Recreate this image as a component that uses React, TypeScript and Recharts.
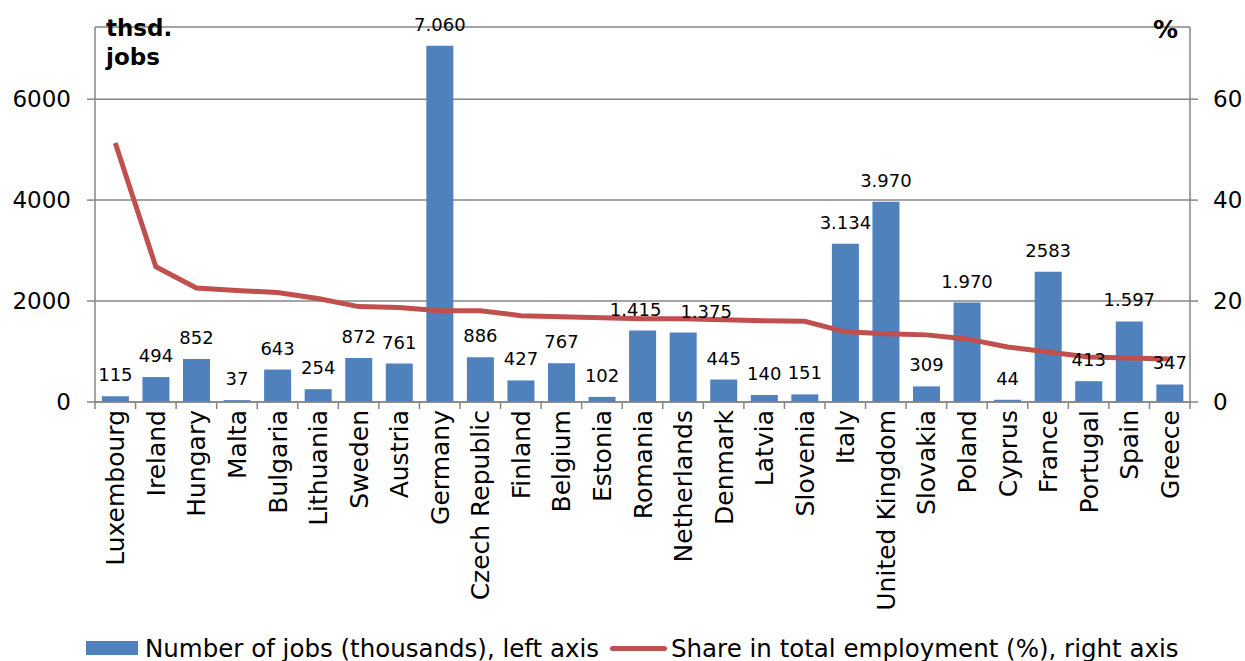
import React from 'react';
import { ComposedChart, Bar, Line, XAxis, YAxis, CartesianGrid, LabelList } from 'recharts';

const countries = [
  'Luxembourg', 'Ireland', 'Hungary', 'Malta', 'Bulgaria', 'Lithuania', 'Sweden', 'Austria', 'Germany',
  'Czech Republic', 'Finland', 'Belgium', 'Estonia', 'Romania', 'Netherlands', 'Denmark', 'Latvia', 'Slovenia',
  'Italy', 'United Kingdom', 'Slovakia', 'Poland', 'Cyprus', 'France', 'Portugal', 'Spain', 'Greece',
];
const jobs = [115, 494, 852, 37, 643, 254, 872, 761, 7060, 886, 427, 767, 102, 1415, 1375, 445, 140, 151, 3134, 3970, 309, 1970, 44, 2583, 413, 1597, 347];
const jobLabels = ['115', '494', '852', '37', '643', '254', '872', '761', '7.060', '886', '427', '767', '102', '1.415', '1.375', '445', '140', '151', '3.134', '3.970', '309', '1.970', '44', '2583', '413', '1.597', '347'];
const share = [51.3, 26.8, 22.6, 22.1, 21.7, 20.5, 18.9, 18.7, 18.1, 18.1, 17.1, 16.9, 16.7, 16.5, 16.5, 16.3, 16.1, 16.0, 13.9, 13.5, 13.3, 12.5, 10.9, 9.9, 8.9, 8.7, 8.5];
const leftTicks = [0, 2000, 4000, 6000];
const rightTicks = [0, 20, 40, 60];

const data = countries.map((c, i) => ({ country: c, jobs: jobs[i], label: jobLabels[i], share: share[i] }));

// label nudges (style only) to avoid overlapping data labels, as in the original
const labelDx: Record<string, number> = { Romania: -7, Netherlands: 23 };

const FONT = "'DejaVu Sans', Verdana, sans-serif";
const AXIS = '#868686';

const CategoryTick = (props: any) => {
  const { x, y, payload, index, visibleTicksCount } = props;
  const half = payload && typeof payload.offset === 'number' ? payload.offset : 20.3;
  const last = index === (visibleTicksCount ?? countries.length) - 1;
  return (
    <g>
      <line x1={x - half} x2={x - half} y1={y} y2={y + 7} stroke={AXIS} strokeWidth={1.5} />
      {last && <line x1={x + half} x2={x + half} y1={y} y2={y + 7} stroke={AXIS} strokeWidth={1.5} />}
      <text
        x={x}
        y={y + 8}
        transform={`rotate(-90, ${x}, ${y + 8})`}
        textAnchor="end"
        dy="0.36em"
        fontSize={25}
        fontFamily={FONT}
        fill="#000"
      >
        {payload.value}
      </text>
    </g>
  );
};

const BarLabel = (props: any) => {
  const { x, y, width, value, index } = props;
  const name = countries[index];
  const dx = labelDx[name] ?? 0;
  return (
    <text
      x={x + width / 2 + dx}
      y={y - 15}
      textAnchor="middle"
      fontSize={18}
      fontFamily={FONT}
      fill="#000"
    >
      {value}
    </text>
  );
};

export default function App() {
  return (
    <div style={{ position: 'absolute', left: 0, top: 0, width: 1245, height: 661, background: '#fff', fontFamily: FONT }}>
      <ComposedChart
        width={1245}
        height={661}
        data={data}
        margin={{ top: 27, right: 0, bottom: 0, left: 0 }}
        barCategoryGap="17%"
      >
        <CartesianGrid yAxisId="left" vertical={false} stroke={AXIS} strokeWidth={1.5} />
        <XAxis
          dataKey="country"
          height={259}
          interval={0}
          tickLine={false}
          tickSize={0}
          tickMargin={0}
          axisLine={{ stroke: AXIS, strokeWidth: 1.5 }}
          tick={<CategoryTick />}
        />
        <YAxis
          yAxisId="left"
          width={95}
          domain={[0, 7430]}
          ticks={leftTicks}
          interval={0}
          tickSize={8}
          tickMargin={16}
          tickLine={{ stroke: AXIS, strokeWidth: 1.5 }}
          axisLine={{ stroke: AXIS, strokeWidth: 1.5 }}
          tick={{ fill: '#000', fontSize: 23, fontFamily: FONT }}
        />
        <YAxis
          yAxisId="right"
          orientation="right"
          width={55}
          domain={[0, 74.3]}
          ticks={rightTicks}
          interval={0}
          tickSize={8}
          tickMargin={15}
          tickLine={{ stroke: AXIS, strokeWidth: 1.5 }}
          axisLine={{ stroke: AXIS, strokeWidth: 1.5 }}
          tick={{ fill: '#000', fontSize: 23, fontFamily: FONT }}
        />
        <Bar yAxisId="left" dataKey="jobs" fill="#4F81BD" isAnimationActive={false}>
          <LabelList dataKey="label" content={<BarLabel />} />
        </Bar>
        <Line
          yAxisId="right"
          type="linear"
          dataKey="share"
          stroke="#C0504D"
          strokeWidth={5}
          dot={false}
          activeDot={false}
          isAnimationActive={false}
        />
      </ComposedChart>
      <div style={{ position: 'absolute', left: 106, top: 14, fontSize: 23, fontWeight: 'bold', lineHeight: '29px', color: '#000' }}>
        thsd.<br />jobs
      </div>
      <div style={{ position: 'absolute', left: 1153, top: 15, fontSize: 25, fontWeight: 'bold', lineHeight: '29px', color: '#000' }}>
        %
      </div>
      <div style={{ position: 'absolute', left: 86, top: 634, height: 28, display: 'flex', alignItems: 'center', fontSize: 24.5, color: '#000', whiteSpace: 'nowrap' }}>
        <span style={{ display: 'inline-block', width: 52, height: 14, background: '#4F81BD', marginRight: 7 }} />
        <span>Number of jobs (thousands), left axis</span>
        <span style={{ display: 'inline-block', width: 57, height: 5, borderRadius: 3, background: '#C0504D', marginLeft: 11, marginRight: 4 }} />
        <span>Share in total employment (%), right axis</span>
      </div>
    </div>
  );
}
